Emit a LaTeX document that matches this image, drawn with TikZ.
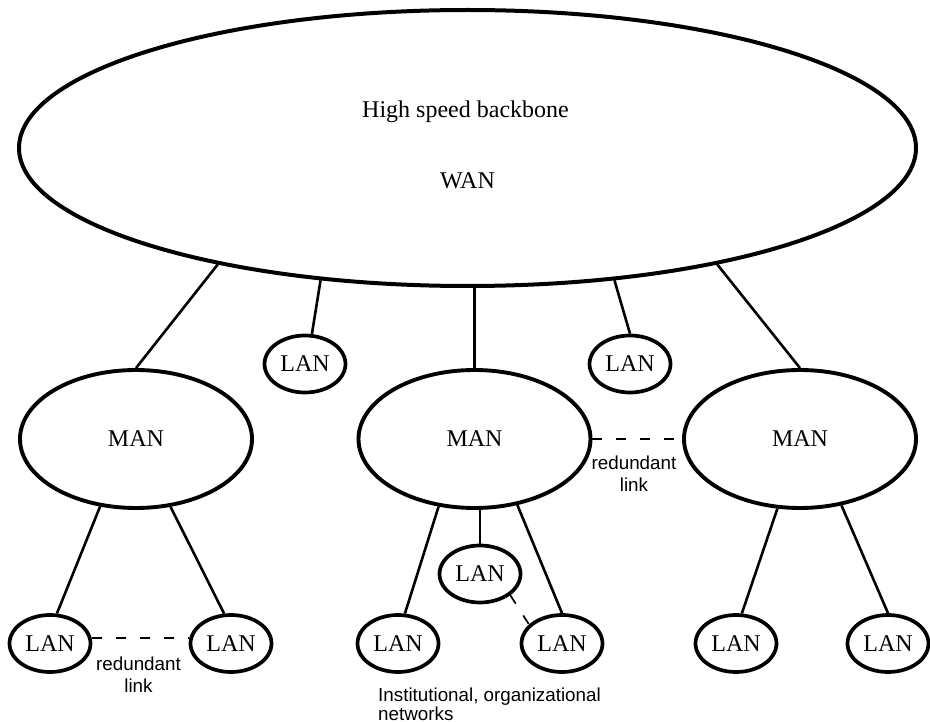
\documentclass[tikz,border=0pt]{standalone}
\usepackage{fontspec}
\setmainfont{Liberation Serif}
\newfontfamily\labelsans{Liberation Sans}
\usetikzlibrary{shapes.geometric}
\begin{document}
\begin{tikzpicture}[x=1pt,y=-1pt,
  net/.style={ellipse, draw, inner sep=0pt, font=\fontsize{24}{28}\selectfont},
  wanbox/.style={net, line width=4pt, minimum width=897pt, minimum height=276pt},
  manbox/.style={net, line width=3.9pt, minimum width=232pt, minimum height=138pt},
  lanbox/.style={net, line width=3.7pt, minimum width=81pt, minimum height=57pt},
  link/.style={line width=2.6pt},
  redlink/.style={line width=1.7pt, dash pattern=on 10pt off 14pt},
  note/.style={font=\labelsans\fontsize{18.8}{22}\selectfont, align=center, inner sep=0pt},
  notetight/.style={font=\labelsans\fontsize{18.8}{17.5}\selectfont, align=left, inner sep=0pt, anchor=north west},
  title/.style={font=\fontsize{24}{28}\selectfont, anchor=base, inner sep=0pt}]
\useasboundingbox (0,0) rectangle (930,722);

% nodes
\node[wanbox] (wan) at (467.5,148) {};
\node[title] (t1) at (465.5,118) {High speed backbone};
\node[title] (t2) at (467.5,189) {WAN};

\node[lanbox] (lanA) at (305,364) {LAN};
\node[lanbox] (lanB) at (630,364) {LAN};

\node[manbox] (manL) at (136,439) {MAN};
\node[manbox] (manM) at (474.5,439) {MAN};
\node[manbox] (manR) at (800,439) {MAN};

\node[lanbox] (lanL1) at (50,643.5) {LAN};
\node[lanbox] (lanL2) at (231,643.5) {LAN};
\node[lanbox] (lanM1) at (398,643.5) {LAN};
\node[lanbox] (lanMc) at (480,574) {LAN};
\node[lanbox] (lanM2) at (562,643.5) {LAN};
\node[lanbox] (lanR1) at (736,643.5) {LAN};
\node[lanbox] (lanR2) at (888,643.5) {LAN};

% connectors from WAN
\draw[link] (wan.205.4) -- (manL.north);
\draw[link] (wan.222.8) -- (lanA.77);
\draw[link] (manM.north |- wan.south) -- (manM.north);
\draw[link] (wan.318.6) -- (lanB.north);
\draw[link] (wan.335.95) -- (manR.north);

% connectors from MANs
\draw[link] (manL.242.8) -- (lanL1.77);
\draw[link] (manL.297.2) -- (lanL2.103);
\draw[link] (manM.242.2) -- (lanM1.77);
\draw[link] (manM.south -| lanMc.north) -- (lanMc.north);
\draw[link] (manM.303.8) -- (lanM2.north);
\draw[link] (manR.252) -- (lanR1.79);
\draw[link] (manR.302.4) -- (lanR2.north);

% redundant links
\draw[redlink] (lanL1.8) -- (lanL2.172);
\draw[redlink] (manM.east) -- (manR.west);
\draw[redlink] (lanMc.-35) -- (lanM2.150);

% notes
\node[note] (n1) at (138.5,674.5) {redundant\\link};
\node[note] (n2) at (634,473.5) {redundant\\link};
\node[notetight] (n3) at (378,688) {Institutional, organizational\\networks};
\end{tikzpicture}
\end{document}
